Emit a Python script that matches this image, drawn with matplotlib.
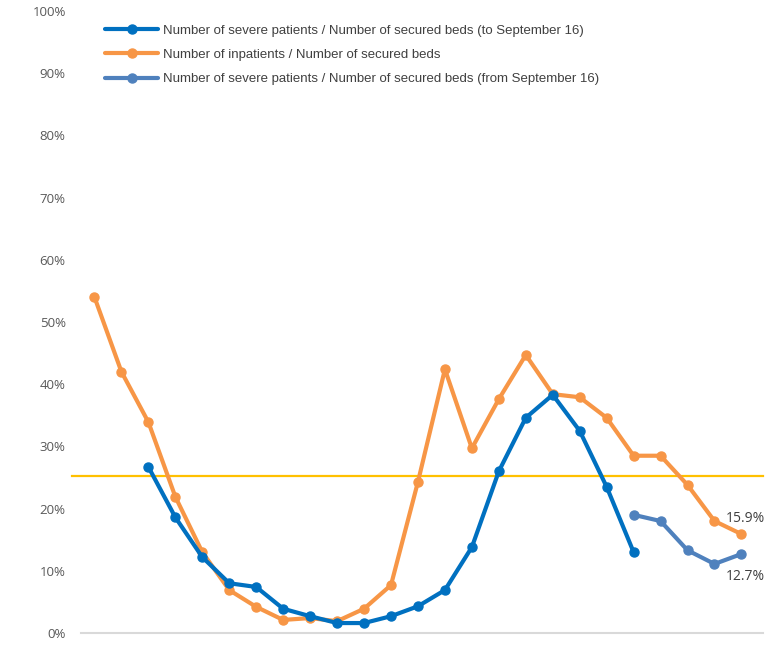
import matplotlib.pyplot as plt
import numpy as np

# values (percent)
inpatients = [54.0, 42.0, 33.9, 21.9, 13.0, 6.9, 4.2, 2.1, 2.4, 1.9, 3.9, 7.7, 24.3,
              42.4, 29.7, 37.6, 44.7, 38.4, 37.9, 34.6, 28.5, 28.5, 23.8, 18.0, 15.9]
severe_to = [None, None, 26.7, 18.6, 12.2, 8.0, 7.4, 3.9, 2.7, 1.6, 1.6, 2.7, 4.3,
             6.9, 13.8, 26.0, 34.6, 38.3, 32.5, 23.5, 13.0]
severe_from = [None] * 20 + [19.0, 18.0, 13.3, 11.1, 12.7]
threshold = 25.2

labels = ["Number of severe patients / Number of secured beds (to September 16)",
          "Number of inpatients / Number of secured beds",
          "Number of severe patients / Number of secured beds (from September 16)"]

def to_arr(lst):
    return np.array([np.nan if v is None else v for v in lst], dtype=float)

fig = plt.figure(figsize=(7.65, 6.49), dpi=100)
ax = fig.add_axes([81 / 765, 16 / 649, 682 / 765, 622 / 649])

lw = 3.0
ms = 6.5
h1, = ax.plot(np.arange(len(severe_to)), to_arr(severe_to), color="#0070C0", lw=lw,
              marker="o", ms=ms, solid_capstyle="round", zorder=4)
h2, = ax.plot(np.arange(len(inpatients)), inpatients, color="#F79646", lw=lw,
              marker="o", ms=ms, solid_capstyle="round", zorder=3)
h3, = ax.plot(np.arange(len(severe_from)), to_arr(severe_from), color="#4F81BD", lw=lw,
              marker="o", ms=ms, solid_capstyle="round", zorder=4)

ax.axhline(threshold, xmin=-9 / 682, xmax=1, color="#FFC000", lw=1.6, clip_on=False, zorder=2)

ax.annotate(f"{inpatients[-1]:.1f}%", (len(inpatients) - 1, inpatients[-1]),
            xytext=(3, 6), textcoords="offset points", ha="center", va="bottom",
            fontsize=10, color="#404040", family="Open Sans")
ax.annotate(f"{severe_from[-1]:.1f}%", (len(severe_from) - 1, severe_from[-1]),
            xytext=(3, -11), textcoords="offset points", ha="center", va="top",
            fontsize=10, color="#404040", family="Open Sans")

ax.set_xlim(-0.5, 24.8)
ax.set_ylim(0, 100)
ax.set_yticks(np.arange(0, 101, 10))
ax.set_yticklabels([f"{v}%" for v in range(0, 101, 10)], family="Open Sans",
                   fontsize=9.5, color="#595959")
ax.tick_params(axis="y", length=0, pad=11)
ax.set_xticks([])
for s in ["top", "right", "left"]:
    ax.spines[s].set_visible(False)
ax.spines["bottom"].set_color("#d9d9d9")
ax.spines["bottom"].set_linewidth(1.5)

leg = fig.legend([h1, h2, h3], labels, loc="upper left", bbox_to_anchor=(100 / 765, 1 - 19 / 649),
                 frameon=False, prop={"family": "Liberation Sans", "size": 9.5},
                 handlelength=4.0, handletextpad=0.4, labelspacing=0.92, borderaxespad=0)
for t in leg.get_texts():
    t.set_color("#404040")

fig.savefig("out.png", dpi=100)
